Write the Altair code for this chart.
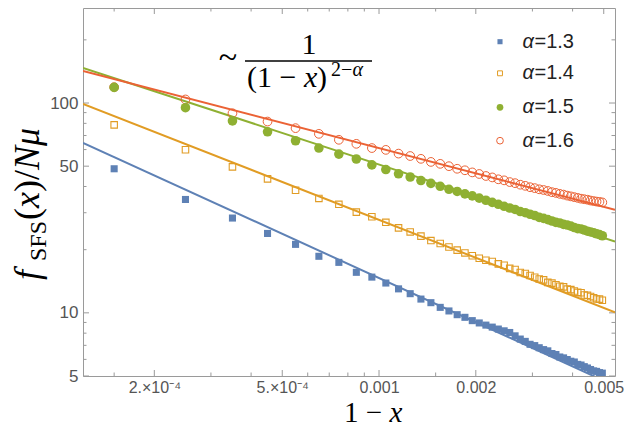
import altair as alt
import pandas as pd

# ---------------- data ----------------
x_e4 = [1.5, 2.5, 3.5, 4.5, 5.5, 6.5, 7.5, 8.5, 9.5, 10.5, 11.5, 12.5, 13.5, 14.5,
        15.5, 16.5, 17.5, 18.5, 19.5, 20.5, 21.5, 22.5, 23.5, 24.5, 25.5, 26.5,
        27.5, 28.5, 29.5, 30.5, 31.5, 32.5, 33.5, 34.5, 35.5, 36.5, 37.5, 38.5,
        39.5, 40.5, 41.5, 42.5, 43.5, 44.5, 45.5, 46.5, 47.5, 48.5, 49.5]

a13 = [48.6, 34.7, 28.3, 23.9, 21.2, 18.6, 17.4, 15.6, 14.8,
       13.87, 13.01, 12.34, 11.63, 11.18, 10.62, 10.21, 9.80, 9.52, 9.18,
       8.95, 8.74, 8.55, 8.37, 8.21, 8.06, 7.77, 7.50, 7.31, 7.08,
       6.98, 6.82, 6.68, 6.59, 6.40, 6.33, 6.16, 6.10, 5.99, 5.88,
       5.83, 5.68, 5.64, 5.54, 5.46, 5.37, 5.29, 5.26, 5.19, 5.16]
a14 = [78.7, 59.9, 49.6, 43.5, 38.4, 35.1, 32.9, 30.2, 28.7,
       27.0, 25.4, 24.3, 23.2, 22.1, 21.4, 20.6, 19.9, 19.3, 18.7,
       18.2, 17.8, 17.56, 17.12, 16.86, 16.29, 16.08, 15.57, 15.39, 15.07,
       14.78, 14.50, 14.36, 13.97, 13.86, 13.62, 13.40, 13.30, 12.98, 12.90,
       12.71, 12.52, 12.47, 12.17, 12.12, 11.96, 11.80, 11.65, 11.62, 11.48]
a15 = [118.7, 95.0, 82.2, 72.9, 66.1, 61.0, 57.1, 54.1, 50.7,
       48.2, 46.0, 44.4, 42.7, 41.4, 40.1, 38.8, 37.9, 36.9, 36.1,
       35.2, 34.4, 33.6, 32.9, 32.2, 31.6, 31.1, 30.4, 30.0, 29.5,
       29.1, 28.5, 28.2, 27.8, 27.4, 27.0, 26.8, 26.4, 26.2, 25.9,
       25.5, 25.2, 25.1, 24.8, 24.5, 24.3, 24.1, 23.8, 23.6, 23.3]
a16 = [119.0, 104.0, 89.4, 81.6, 75.9, 71.3, 66.8, 63.9, 61.0,
       59.8, 57.4, 55.9, 54.2, 52.4, 51.3, 50.0, 48.6, 47.8, 46.7,
       45.9, 44.9, 44.2, 43.3, 42.8, 42.0, 41.5, 40.8, 40.3, 39.7,
       39.3, 38.8, 38.5, 38.1, 37.6, 37.3, 36.9, 36.6, 36.2, 35.9,
       35.6, 35.3, 35.0, 34.8, 34.6, 34.3, 34.1, 33.9, 33.8, 33.6]

# fitted power-law lines: values at the two ends of the x range
line_x = [1.2e-4, 5.42e-3]
line13 = [64.6, 4.49]
line14 = [99.0, 10.06]
line15 = [146.9, 21.86]
line16 = [142.3, 31.0]

x_major = [2e-4, 5e-4, 1e-3, 2e-3, 5e-3]
x_minor = [1.5e-4, 3e-4, 4e-4, 6e-4, 7e-4, 8e-4, 9e-4, 1.5e-3, 3e-3, 4e-3]
y_major = [5, 10, 50, 100]
y_minor = [6, 7, 8, 9, 20, 30, 40, 60, 70, 80, 90, 200]

C13, C14, C15, C16 = "#5E81B5", "#E19C24", "#8FB032", "#EB6235"
SERIF = "Liberation Serif"

W, H = 532, 368
XS = alt.Scale(type="log", domain=[1.2e-4, 5.42e-3], nice=False)
YS = alt.Scale(type="log", domain=[5, 283.7], nice=False)
xaxis = alt.Axis(values=x_major, ticks=False, domain=False, grid=False, title=None,
                 labelExpr="datum.value < 0.0009 ? format(datum.value*10000, '.0f') + '.×10⁻⁴' : format(datum.value, '.3f')",
                 labelFont="Liberation Sans", labelFontSize=16, labelColor="#555555",
                 labelPadding=3, labelFlush=False, labelOverlap=False)
yaxis = alt.Axis(values=y_major, ticks=False, domain=False, grid=False, title=None,
                 labelExpr="format(datum.value, 'd')",
                 labelFont="Liberation Sans", labelFontSize=17, labelColor="#555555",
                 labelPadding=5, labelOverlap=False)


def X(f):
    return alt.X(f"{f}:Q", scale=XS, axis=xaxis)


def Y(f):
    return alt.Y(f"{f}:Q", scale=YS, axis=yaxis)


xs = [v * 1e-4 for v in x_e4]
layers = []

# frame ticks (inward)
for vals, L in [(x_major, 6), (x_minor, 3.5)]:
    d = pd.DataFrame({"v": vals})
    layers.append(alt.Chart(d).mark_rule(color="#9a9a9a", strokeWidth=1).encode(
        x=X("v"), y=alt.value(H), y2=alt.value(H - L)))
    layers.append(alt.Chart(d).mark_rule(color="#9a9a9a", strokeWidth=1).encode(
        x=X("v"), y=alt.value(0), y2=alt.value(L)))
for vals, L in [(y_major, 6), (y_minor, 3.5)]:
    d = pd.DataFrame({"v": vals})
    layers.append(alt.Chart(d).mark_rule(color="#9a9a9a", strokeWidth=1).encode(
        y=Y("v"), x=alt.value(0), x2=alt.value(L)))
    layers.append(alt.Chart(d).mark_rule(color="#9a9a9a", strokeWidth=1).encode(
        y=Y("v"), x=alt.value(W), x2=alt.value(W - L)))

# fit lines
for vals, c in [(line13, C13), (line14, C14), (line15, C15), (line16, C16)]:
    d = pd.DataFrame({"x": line_x, "y": vals})
    layers.append(alt.Chart(d).mark_line(color=c, strokeWidth=2, clip=True).encode(
        x=X("x"), y=Y("y")))

# points
d13 = pd.DataFrame({"x": xs, "y": a13})
d14 = pd.DataFrame({"x": xs, "y": a14})
d15 = pd.DataFrame({"x": xs, "y": a15})
d16 = pd.DataFrame({"x": xs, "y": a16})
layers.append(alt.Chart(d13).mark_square(size=50, color=C13, opacity=1, clip=True).encode(x=X("x"), y=Y("y")))
layers.append(alt.Chart(d14).mark_square(size=42, filled=False, color=C14, strokeWidth=1.1, opacity=1, clip=True).encode(x=X("x"), y=Y("y")))
layers.append(alt.Chart(d16).mark_point(shape="circle", size=76, filled=False, color=C16, strokeWidth=1, opacity=1, clip=True).encode(x=X("x"), y=Y("y")))
layers.append(alt.Chart(d15).mark_circle(size=92, color=C15, opacity=1, clip=True).encode(x=X("x"), y=Y("y")))

one = pd.DataFrame({"a": [0]})


def txt(s, x, y, size, font=SERIF, style="normal", angle=0,
        align="left", baseline="alphabetic", color="black"):
    return alt.Chart(one).mark_text(text=s, font=font, fontSize=size, fontStyle=style,
                                    angle=angle, align=align, baseline=baseline,
                                    color=color).encode(x=alt.value(x), y=alt.value(y))


# legend
leg_y = [33.7, 65.3, 99.3, 132.7]
leg_lab = ["=1.3", "=1.4", "=1.5", "=1.6"]
layers.append(alt.Chart(one).mark_square(size=26, color=C13, opacity=1).encode(x=alt.value(417), y=alt.value(leg_y[0])))
layers.append(alt.Chart(one).mark_square(size=24, filled=False, color=C14, strokeWidth=1, opacity=1).encode(x=alt.value(417), y=alt.value(leg_y[1])))
layers.append(alt.Chart(one).mark_circle(size=45, color=C15, opacity=1).encode(x=alt.value(417), y=alt.value(leg_y[2])))
layers.append(alt.Chart(one).mark_point(shape="circle", size=45, filled=False, color=C16, strokeWidth=1, opacity=1).encode(x=alt.value(417), y=alt.value(leg_y[3])))
for yy, lab in zip(leg_y, leg_lab):
    layers.append(txt("α", 439.5, yy, 20, font="Liberation Sans", style="italic", baseline="middle", color="#222222"))
    layers.append(txt(lab, 451.5, yy, 20, font="Liberation Sans", baseline="middle", color="#222222"))

# formula  ~ 1/(1-x)^(2-alpha)
layers.append(txt("~", 145, 50, 34, align="center", baseline="middle"))
layers.append(txt("1", 226, 46, 30, align="center"))
layers.append(alt.Chart(one).mark_rule(color="black", strokeWidth=1.5).encode(
    x=alt.value(162), x2=alt.value(289), y=alt.value(53)))
layers.append(txt("(1 − ", 164, 79, 30))
layers.append(txt("x", 221, 79, 30, style="italic"))
layers.append(txt(")", 234, 79, 30))
layers.append(txt("2−", 248, 68, 20))
layers.append(txt("α", 269.5, 68, 20, style="italic"))

# y title  f_SFS(x)/Nμ  (rotated)
layers.append(txt("f", -44, 272, 36, style="italic", angle=270))
layers.append(txt("SFS", -37, 253, 24, angle=270))
layers.append(txt("(", -44, 212, 36, angle=270))
layers.append(txt("x", -44, 200, 36, style="italic", angle=270))
layers.append(txt(")/", -44, 184, 36, angle=270))
layers.append(txt("Nμ", -44, 162, 36, style="italic", angle=270))

# x title  1 − x
layers.append(txt("1 − ", 261, 413.5, 29))
layers.append(txt("x", 306.5, 413.5, 29, style="italic"))

chart = alt.layer(*layers).properties(
    width=W, height=H,
    padding={"left": 75, "top": 0, "right": 10, "bottom": 52},
    autosize=alt.AutoSizeParams(type="none"),
    background="white",
).configure_view(stroke="#9a9a9a", strokeWidth=1)

chart.save("out.html", embed_options={"renderer": "svg", "actions": False})
